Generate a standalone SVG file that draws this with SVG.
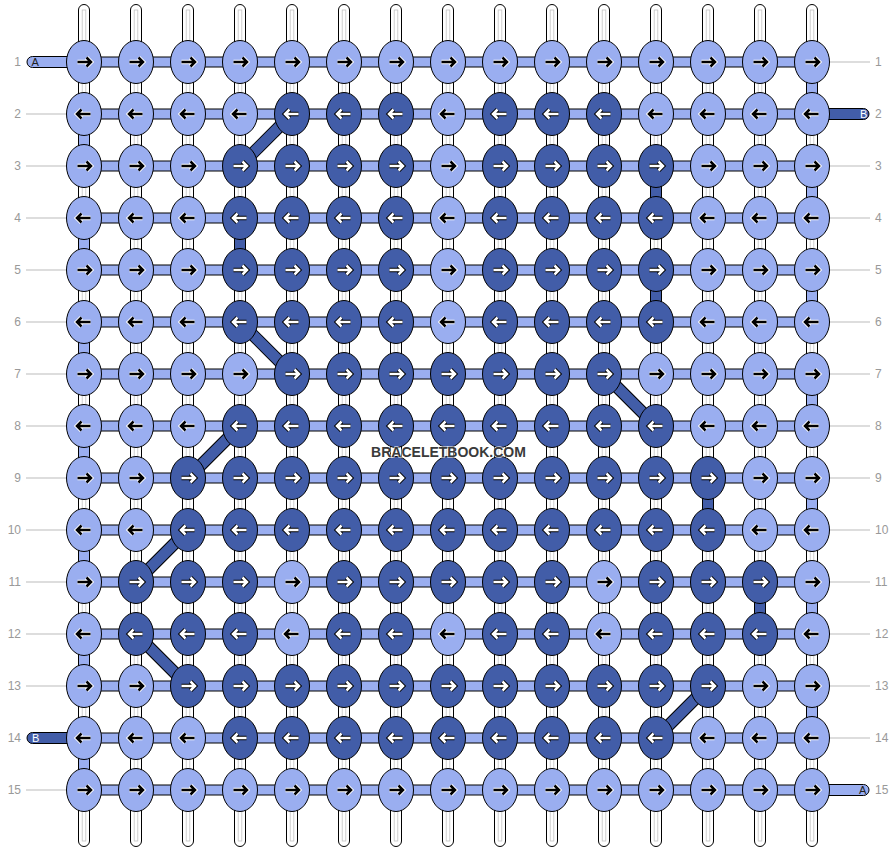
<svg xmlns="http://www.w3.org/2000/svg" xmlns:xlink="http://www.w3.org/1999/xlink" width="896" height="852" viewBox="0 0 896 852">
<style>
.L{fill:#9aaef0;stroke:#000;stroke-width:1}
.D{fill:#425da8;stroke:#000;stroke-width:1}
.vs{fill:#fff;stroke:#000;stroke-width:1}
.vi{fill:none;stroke:#c4c4c4;stroke-width:0.8}
.hb{fill:#9aaef0;stroke:#000;stroke-width:1}
.ll{stroke:#bbb;stroke-width:1}
.lb{font-family:"Liberation Sans",Arial,sans-serif;font-size:12px;fill:#999}
.tl{font-family:"Liberation Sans",Arial,sans-serif;font-size:11px}
.dg1{stroke:#000;stroke-width:12.5;stroke-linecap:butt}
.dg2{stroke:#425da8;stroke-width:10.5;stroke-linecap:butt}
</style>
<defs>
<path id="ap" d="M-6.5,0H6M2.5,-4.5L7,0L2.5,4.5" fill="none"/>
<g id="RL"><use href="#ap" stroke="#fff" stroke-width="4.5"/><use href="#ap" stroke="#000" stroke-width="2.5"/></g>
<g id="RD"><use href="#ap" stroke="#000" stroke-width="4.5"/><use href="#ap" stroke="#fff" stroke-width="2.5"/></g>
<g id="LL" transform="scale(-1,1)"><use href="#RL"/></g>
<g id="LD" transform="scale(-1,1)"><use href="#RD"/></g>
</defs>
<rect width="896" height="852" fill="#fff"/>
<g id="labels">
<g class="lb" text-anchor="end">
<text x="21" y="66">1</text><text x="21" y="118">2</text><text x="21" y="170">3</text><text x="21" y="222">4</text><text x="21" y="274">5</text><text x="21" y="326">6</text><text x="21" y="378">7</text><text x="21" y="430">8</text><text x="21" y="482">9</text><text x="21" y="534">10</text><text x="21" y="586">11</text><text x="21" y="638">12</text><text x="21" y="690">13</text><text x="21" y="742">14</text><text x="21" y="794">15</text>
</g>
<g class="lb">
<text x="875" y="66">1</text><text x="875" y="118">2</text><text x="875" y="170">3</text><text x="875" y="222">4</text><text x="875" y="274">5</text><text x="875" y="326">6</text><text x="875" y="378">7</text><text x="875" y="430">8</text><text x="875" y="482">9</text><text x="875" y="534">10</text><text x="875" y="586">11</text><text x="875" y="638">12</text><text x="875" y="690">13</text><text x="875" y="742">14</text><text x="875" y="794">15</text>
</g>
<g class="ll">
<line x1="26" y1="114" x2="67" y2="114"/><line x1="26" y1="166" x2="67" y2="166"/><line x1="26" y1="218" x2="67" y2="218"/><line x1="26" y1="270" x2="67" y2="270"/><line x1="26" y1="322" x2="67" y2="322"/><line x1="26" y1="374" x2="67" y2="374"/><line x1="26" y1="426" x2="67" y2="426"/><line x1="26" y1="478" x2="67" y2="478"/><line x1="26" y1="530" x2="67" y2="530"/><line x1="26" y1="582" x2="67" y2="582"/><line x1="26" y1="634" x2="67" y2="634"/><line x1="26" y1="686" x2="67" y2="686"/><line x1="26" y1="790" x2="67" y2="790"/>
<line x1="829" y1="62" x2="870" y2="62"/><line x1="829" y1="166" x2="870" y2="166"/><line x1="829" y1="218" x2="870" y2="218"/><line x1="829" y1="270" x2="870" y2="270"/><line x1="829" y1="322" x2="870" y2="322"/><line x1="829" y1="374" x2="870" y2="374"/><line x1="829" y1="426" x2="870" y2="426"/><line x1="829" y1="478" x2="870" y2="478"/><line x1="829" y1="530" x2="870" y2="530"/><line x1="829" y1="582" x2="870" y2="582"/><line x1="829" y1="634" x2="870" y2="634"/><line x1="829" y1="686" x2="870" y2="686"/><line x1="829" y1="738" x2="870" y2="738"/>
</g>
</g>
<g id="connectors">
<g id="vertical-strings">
<rect class="vs" x="78.5" y="4.5" width="11" height="842" rx="5.5"/><rect class="vs" x="130.5" y="4.5" width="11" height="842" rx="5.5"/><rect class="vs" x="182.5" y="4.5" width="11" height="842" rx="5.5"/><rect class="vs" x="234.5" y="4.5" width="11" height="842" rx="5.5"/><rect class="vs" x="286.5" y="4.5" width="11" height="842" rx="5.5"/><rect class="vs" x="338.5" y="4.5" width="11" height="842" rx="5.5"/><rect class="vs" x="390.5" y="4.5" width="11" height="842" rx="5.5"/><rect class="vs" x="442.5" y="4.5" width="11" height="842" rx="5.5"/><rect class="vs" x="494.5" y="4.5" width="11" height="842" rx="5.5"/><rect class="vs" x="546.5" y="4.5" width="11" height="842" rx="5.5"/><rect class="vs" x="598.5" y="4.5" width="11" height="842" rx="5.5"/><rect class="vs" x="650.5" y="4.5" width="11" height="842" rx="5.5"/><rect class="vs" x="702.5" y="4.5" width="11" height="842" rx="5.5"/><rect class="vs" x="754.5" y="4.5" width="11" height="842" rx="5.5"/><rect class="vs" x="806.5" y="4.5" width="11" height="842" rx="5.5"/>
<rect class="vi" x="82.2" y="10" width="3.6" height="831"/><rect class="vi" x="134.2" y="10" width="3.6" height="831"/><rect class="vi" x="186.2" y="10" width="3.6" height="831"/><rect class="vi" x="238.2" y="10" width="3.6" height="831"/><rect class="vi" x="290.2" y="10" width="3.6" height="831"/><rect class="vi" x="342.2" y="10" width="3.6" height="831"/><rect class="vi" x="394.2" y="10" width="3.6" height="831"/><rect class="vi" x="446.2" y="10" width="3.6" height="831"/><rect class="vi" x="498.2" y="10" width="3.6" height="831"/><rect class="vi" x="550.2" y="10" width="3.6" height="831"/><rect class="vi" x="602.2" y="10" width="3.6" height="831"/><rect class="vi" x="654.2" y="10" width="3.6" height="831"/><rect class="vi" x="706.2" y="10" width="3.6" height="831"/><rect class="vi" x="758.2" y="10" width="3.6" height="831"/><rect class="vi" x="810.2" y="10" width="3.6" height="831"/>
</g>
<g id="tails">
<rect class="L" x="27" y="56.5" width="60" height="11" rx="5.5"/>
<rect class="D" x="27" y="732.5" width="60" height="11" rx="5.5"/>
<rect class="D" x="809" y="108.5" width="60" height="11" rx="5.5"/>
<rect class="L" x="809" y="784.5" width="60" height="11" rx="5.5"/>
</g>
<g id="horizontal">
<rect class="hb" x="84" y="57" width="728" height="10"/><rect class="hb" x="84" y="109" width="728" height="10"/><rect class="hb" x="84" y="161" width="728" height="10"/><rect class="hb" x="84" y="213" width="728" height="10"/><rect class="hb" x="84" y="265" width="728" height="10"/><rect class="hb" x="84" y="317" width="728" height="10"/><rect class="hb" x="84" y="369" width="728" height="10"/><rect class="hb" x="84" y="421" width="728" height="10"/><rect class="hb" x="84" y="473" width="728" height="10"/><rect class="hb" x="84" y="525" width="728" height="10"/><rect class="hb" x="84" y="577" width="728" height="10"/><rect class="hb" x="84" y="629" width="728" height="10"/><rect class="hb" x="84" y="681" width="728" height="10"/><rect class="hb" x="84" y="733" width="728" height="10"/><rect class="hb" x="84" y="785" width="728" height="10"/>
</g>
<g id="edge-turns">
<rect class="L" x="806.5" y="62" width="11" height="52"/><rect class="L" x="806.5" y="166" width="11" height="52"/><rect class="L" x="806.5" y="270" width="11" height="52"/><rect class="L" x="806.5" y="374" width="11" height="52"/><rect class="L" x="806.5" y="478" width="11" height="52"/><rect class="L" x="806.5" y="582" width="11" height="52"/><rect class="L" x="806.5" y="686" width="11" height="52"/>
<rect class="L" x="78.5" y="114" width="11" height="52"/><rect class="L" x="78.5" y="218" width="11" height="52"/><rect class="L" x="78.5" y="322" width="11" height="52"/><rect class="L" x="78.5" y="426" width="11" height="52"/><rect class="L" x="78.5" y="530" width="11" height="52"/><rect class="L" x="78.5" y="634" width="11" height="52"/><rect class="L" x="78.5" y="738" width="11" height="52"/>
</g>
<g id="dark-verticals">
<rect class="D" x="234.5" y="218" width="11" height="52"/>
<rect class="D" x="650.5" y="166" width="11" height="52"/>
<rect class="D" x="650.5" y="270" width="11" height="52"/>
<rect class="D" x="702.5" y="478" width="11" height="52"/>
<rect class="D" x="754.5" y="582" width="11" height="52"/>
</g>
<g id="diagonals">
<line class="dg1" x1="292" y1="114" x2="240" y2="166"/><line class="dg2" x1="292" y1="114" x2="240" y2="166"/>
<line class="dg1" x1="240" y1="322" x2="292" y2="374"/><line class="dg2" x1="240" y1="322" x2="292" y2="374"/>
<line class="dg1" x1="604" y1="374" x2="656" y2="426"/><line class="dg2" x1="604" y1="374" x2="656" y2="426"/>
<line class="dg1" x1="240" y1="426" x2="188" y2="478"/><line class="dg2" x1="240" y1="426" x2="188" y2="478"/>
<line class="dg1" x1="188" y1="530" x2="136" y2="582"/><line class="dg2" x1="188" y1="530" x2="136" y2="582"/>
<line class="dg1" x1="136" y1="634" x2="188" y2="686"/><line class="dg2" x1="136" y1="634" x2="188" y2="686"/>
<line class="dg1" x1="708" y1="686" x2="656" y2="738"/><line class="dg2" x1="708" y1="686" x2="656" y2="738"/>
</g>
</g>
<g id="tail-letters" class="tl">
<text x="31.5" y="66" fill="#222">A</text>
<text x="32" y="742" fill="#fff">B</text>
<text x="860" y="118" fill="#fff">B</text>
<text x="859" y="794" fill="#222">A</text>
</g>
<g id="knots">
<g id="k1-1"><ellipse class="L" cx="84" cy="62" rx="17.5" ry="21.5"/><use href="#RL" x="84" y="62"/></g>
<g id="k1-2"><ellipse class="L" cx="136" cy="62" rx="17.5" ry="21.5"/><use href="#RL" x="136" y="62"/></g>
<g id="k1-3"><ellipse class="L" cx="188" cy="62" rx="17.5" ry="21.5"/><use href="#RL" x="188" y="62"/></g>
<g id="k1-4"><ellipse class="L" cx="240" cy="62" rx="17.5" ry="21.5"/><use href="#RL" x="240" y="62"/></g>
<g id="k1-5"><ellipse class="L" cx="292" cy="62" rx="17.5" ry="21.5"/><use href="#RL" x="292" y="62"/></g>
<g id="k1-6"><ellipse class="L" cx="344" cy="62" rx="17.5" ry="21.5"/><use href="#RL" x="344" y="62"/></g>
<g id="k1-7"><ellipse class="L" cx="396" cy="62" rx="17.5" ry="21.5"/><use href="#RL" x="396" y="62"/></g>
<g id="k1-8"><ellipse class="L" cx="448" cy="62" rx="17.5" ry="21.5"/><use href="#RL" x="448" y="62"/></g>
<g id="k1-9"><ellipse class="L" cx="500" cy="62" rx="17.5" ry="21.5"/><use href="#RL" x="500" y="62"/></g>
<g id="k1-10"><ellipse class="L" cx="552" cy="62" rx="17.5" ry="21.5"/><use href="#RL" x="552" y="62"/></g>
<g id="k1-11"><ellipse class="L" cx="604" cy="62" rx="17.5" ry="21.5"/><use href="#RL" x="604" y="62"/></g>
<g id="k1-12"><ellipse class="L" cx="656" cy="62" rx="17.5" ry="21.5"/><use href="#RL" x="656" y="62"/></g>
<g id="k1-13"><ellipse class="L" cx="708" cy="62" rx="17.5" ry="21.5"/><use href="#RL" x="708" y="62"/></g>
<g id="k1-14"><ellipse class="L" cx="760" cy="62" rx="17.5" ry="21.5"/><use href="#RL" x="760" y="62"/></g>
<g id="k1-15"><ellipse class="L" cx="812" cy="62" rx="17.5" ry="21.5"/><use href="#RL" x="812" y="62"/></g>

<g id="k2-1"><ellipse class="L" cx="84" cy="114" rx="17.5" ry="21.5"/><use href="#LL" x="84" y="114"/></g>
<g id="k2-2"><ellipse class="L" cx="136" cy="114" rx="17.5" ry="21.5"/><use href="#LL" x="136" y="114"/></g>
<g id="k2-3"><ellipse class="L" cx="188" cy="114" rx="17.5" ry="21.5"/><use href="#LL" x="188" y="114"/></g>
<g id="k2-4"><ellipse class="L" cx="240" cy="114" rx="17.5" ry="21.5"/><use href="#LL" x="240" y="114"/></g>
<g id="k2-5"><ellipse class="D" cx="292" cy="114" rx="17.5" ry="21.5"/><use href="#LD" x="292" y="114"/></g>
<g id="k2-6"><ellipse class="D" cx="344" cy="114" rx="17.5" ry="21.5"/><use href="#LD" x="344" y="114"/></g>
<g id="k2-7"><ellipse class="D" cx="396" cy="114" rx="17.5" ry="21.5"/><use href="#LD" x="396" y="114"/></g>
<g id="k2-8"><ellipse class="L" cx="448" cy="114" rx="17.5" ry="21.5"/><use href="#LL" x="448" y="114"/></g>
<g id="k2-9"><ellipse class="D" cx="500" cy="114" rx="17.5" ry="21.5"/><use href="#LD" x="500" y="114"/></g>
<g id="k2-10"><ellipse class="D" cx="552" cy="114" rx="17.5" ry="21.5"/><use href="#LD" x="552" y="114"/></g>
<g id="k2-11"><ellipse class="D" cx="604" cy="114" rx="17.5" ry="21.5"/><use href="#LD" x="604" y="114"/></g>
<g id="k2-12"><ellipse class="L" cx="656" cy="114" rx="17.5" ry="21.5"/><use href="#LL" x="656" y="114"/></g>
<g id="k2-13"><ellipse class="L" cx="708" cy="114" rx="17.5" ry="21.5"/><use href="#LL" x="708" y="114"/></g>
<g id="k2-14"><ellipse class="L" cx="760" cy="114" rx="17.5" ry="21.5"/><use href="#LL" x="760" y="114"/></g>
<g id="k2-15"><ellipse class="L" cx="812" cy="114" rx="17.5" ry="21.5"/><use href="#LL" x="812" y="114"/></g>

<g id="k3-1"><ellipse class="L" cx="84" cy="166" rx="17.5" ry="21.5"/><use href="#RL" x="84" y="166"/></g>
<g id="k3-2"><ellipse class="L" cx="136" cy="166" rx="17.5" ry="21.5"/><use href="#RL" x="136" y="166"/></g>
<g id="k3-3"><ellipse class="L" cx="188" cy="166" rx="17.5" ry="21.5"/><use href="#RL" x="188" y="166"/></g>
<g id="k3-4"><ellipse class="D" cx="240" cy="166" rx="17.5" ry="21.5"/><use href="#RD" x="240" y="166"/></g>
<g id="k3-5"><ellipse class="D" cx="292" cy="166" rx="17.5" ry="21.5"/><use href="#RD" x="292" y="166"/></g>
<g id="k3-6"><ellipse class="D" cx="344" cy="166" rx="17.5" ry="21.5"/><use href="#RD" x="344" y="166"/></g>
<g id="k3-7"><ellipse class="D" cx="396" cy="166" rx="17.5" ry="21.5"/><use href="#RD" x="396" y="166"/></g>
<g id="k3-8"><ellipse class="L" cx="448" cy="166" rx="17.5" ry="21.5"/><use href="#RL" x="448" y="166"/></g>
<g id="k3-9"><ellipse class="D" cx="500" cy="166" rx="17.5" ry="21.5"/><use href="#RD" x="500" y="166"/></g>
<g id="k3-10"><ellipse class="D" cx="552" cy="166" rx="17.5" ry="21.5"/><use href="#RD" x="552" y="166"/></g>
<g id="k3-11"><ellipse class="D" cx="604" cy="166" rx="17.5" ry="21.5"/><use href="#RD" x="604" y="166"/></g>
<g id="k3-12"><ellipse class="D" cx="656" cy="166" rx="17.5" ry="21.5"/><use href="#RD" x="656" y="166"/></g>
<g id="k3-13"><ellipse class="L" cx="708" cy="166" rx="17.5" ry="21.5"/><use href="#RL" x="708" y="166"/></g>
<g id="k3-14"><ellipse class="L" cx="760" cy="166" rx="17.5" ry="21.5"/><use href="#RL" x="760" y="166"/></g>
<g id="k3-15"><ellipse class="L" cx="812" cy="166" rx="17.5" ry="21.5"/><use href="#RL" x="812" y="166"/></g>

<g id="k4-1"><ellipse class="L" cx="84" cy="218" rx="17.5" ry="21.5"/><use href="#LL" x="84" y="218"/></g>
<g id="k4-2"><ellipse class="L" cx="136" cy="218" rx="17.5" ry="21.5"/><use href="#LL" x="136" y="218"/></g>
<g id="k4-3"><ellipse class="L" cx="188" cy="218" rx="17.5" ry="21.5"/><use href="#LL" x="188" y="218"/></g>
<g id="k4-4"><ellipse class="D" cx="240" cy="218" rx="17.5" ry="21.5"/><use href="#LD" x="240" y="218"/></g>
<g id="k4-5"><ellipse class="D" cx="292" cy="218" rx="17.5" ry="21.5"/><use href="#LD" x="292" y="218"/></g>
<g id="k4-6"><ellipse class="D" cx="344" cy="218" rx="17.5" ry="21.5"/><use href="#LD" x="344" y="218"/></g>
<g id="k4-7"><ellipse class="D" cx="396" cy="218" rx="17.5" ry="21.5"/><use href="#LD" x="396" y="218"/></g>
<g id="k4-8"><ellipse class="L" cx="448" cy="218" rx="17.5" ry="21.5"/><use href="#LL" x="448" y="218"/></g>
<g id="k4-9"><ellipse class="D" cx="500" cy="218" rx="17.5" ry="21.5"/><use href="#LD" x="500" y="218"/></g>
<g id="k4-10"><ellipse class="D" cx="552" cy="218" rx="17.5" ry="21.5"/><use href="#LD" x="552" y="218"/></g>
<g id="k4-11"><ellipse class="D" cx="604" cy="218" rx="17.5" ry="21.5"/><use href="#LD" x="604" y="218"/></g>
<g id="k4-12"><ellipse class="D" cx="656" cy="218" rx="17.5" ry="21.5"/><use href="#LD" x="656" y="218"/></g>
<g id="k4-13"><ellipse class="L" cx="708" cy="218" rx="17.5" ry="21.5"/><use href="#LL" x="708" y="218"/></g>
<g id="k4-14"><ellipse class="L" cx="760" cy="218" rx="17.5" ry="21.5"/><use href="#LL" x="760" y="218"/></g>
<g id="k4-15"><ellipse class="L" cx="812" cy="218" rx="17.5" ry="21.5"/><use href="#LL" x="812" y="218"/></g>

<g id="k5-1"><ellipse class="L" cx="84" cy="270" rx="17.5" ry="21.5"/><use href="#RL" x="84" y="270"/></g>
<g id="k5-2"><ellipse class="L" cx="136" cy="270" rx="17.5" ry="21.5"/><use href="#RL" x="136" y="270"/></g>
<g id="k5-3"><ellipse class="L" cx="188" cy="270" rx="17.5" ry="21.5"/><use href="#RL" x="188" y="270"/></g>
<g id="k5-4"><ellipse class="D" cx="240" cy="270" rx="17.5" ry="21.5"/><use href="#RD" x="240" y="270"/></g>
<g id="k5-5"><ellipse class="D" cx="292" cy="270" rx="17.5" ry="21.5"/><use href="#RD" x="292" y="270"/></g>
<g id="k5-6"><ellipse class="D" cx="344" cy="270" rx="17.5" ry="21.5"/><use href="#RD" x="344" y="270"/></g>
<g id="k5-7"><ellipse class="D" cx="396" cy="270" rx="17.5" ry="21.5"/><use href="#RD" x="396" y="270"/></g>
<g id="k5-8"><ellipse class="L" cx="448" cy="270" rx="17.5" ry="21.5"/><use href="#RL" x="448" y="270"/></g>
<g id="k5-9"><ellipse class="D" cx="500" cy="270" rx="17.5" ry="21.5"/><use href="#RD" x="500" y="270"/></g>
<g id="k5-10"><ellipse class="D" cx="552" cy="270" rx="17.5" ry="21.5"/><use href="#RD" x="552" y="270"/></g>
<g id="k5-11"><ellipse class="D" cx="604" cy="270" rx="17.5" ry="21.5"/><use href="#RD" x="604" y="270"/></g>
<g id="k5-12"><ellipse class="D" cx="656" cy="270" rx="17.5" ry="21.5"/><use href="#RD" x="656" y="270"/></g>
<g id="k5-13"><ellipse class="L" cx="708" cy="270" rx="17.5" ry="21.5"/><use href="#RL" x="708" y="270"/></g>
<g id="k5-14"><ellipse class="L" cx="760" cy="270" rx="17.5" ry="21.5"/><use href="#RL" x="760" y="270"/></g>
<g id="k5-15"><ellipse class="L" cx="812" cy="270" rx="17.5" ry="21.5"/><use href="#RL" x="812" y="270"/></g>

<g id="k6-1"><ellipse class="L" cx="84" cy="322" rx="17.5" ry="21.5"/><use href="#LL" x="84" y="322"/></g>
<g id="k6-2"><ellipse class="L" cx="136" cy="322" rx="17.5" ry="21.5"/><use href="#LL" x="136" y="322"/></g>
<g id="k6-3"><ellipse class="L" cx="188" cy="322" rx="17.5" ry="21.5"/><use href="#LL" x="188" y="322"/></g>
<g id="k6-4"><ellipse class="D" cx="240" cy="322" rx="17.5" ry="21.5"/><use href="#LD" x="240" y="322"/></g>
<g id="k6-5"><ellipse class="D" cx="292" cy="322" rx="17.5" ry="21.5"/><use href="#LD" x="292" y="322"/></g>
<g id="k6-6"><ellipse class="D" cx="344" cy="322" rx="17.5" ry="21.5"/><use href="#LD" x="344" y="322"/></g>
<g id="k6-7"><ellipse class="D" cx="396" cy="322" rx="17.5" ry="21.5"/><use href="#LD" x="396" y="322"/></g>
<g id="k6-8"><ellipse class="L" cx="448" cy="322" rx="17.5" ry="21.5"/><use href="#LL" x="448" y="322"/></g>
<g id="k6-9"><ellipse class="D" cx="500" cy="322" rx="17.5" ry="21.5"/><use href="#LD" x="500" y="322"/></g>
<g id="k6-10"><ellipse class="D" cx="552" cy="322" rx="17.5" ry="21.5"/><use href="#LD" x="552" y="322"/></g>
<g id="k6-11"><ellipse class="D" cx="604" cy="322" rx="17.5" ry="21.5"/><use href="#LD" x="604" y="322"/></g>
<g id="k6-12"><ellipse class="D" cx="656" cy="322" rx="17.5" ry="21.5"/><use href="#LD" x="656" y="322"/></g>
<g id="k6-13"><ellipse class="L" cx="708" cy="322" rx="17.5" ry="21.5"/><use href="#LL" x="708" y="322"/></g>
<g id="k6-14"><ellipse class="L" cx="760" cy="322" rx="17.5" ry="21.5"/><use href="#LL" x="760" y="322"/></g>
<g id="k6-15"><ellipse class="L" cx="812" cy="322" rx="17.5" ry="21.5"/><use href="#LL" x="812" y="322"/></g>

<g id="k7-1"><ellipse class="L" cx="84" cy="374" rx="17.5" ry="21.5"/><use href="#RL" x="84" y="374"/></g>
<g id="k7-2"><ellipse class="L" cx="136" cy="374" rx="17.5" ry="21.5"/><use href="#RL" x="136" y="374"/></g>
<g id="k7-3"><ellipse class="L" cx="188" cy="374" rx="17.5" ry="21.5"/><use href="#RL" x="188" y="374"/></g>
<g id="k7-4"><ellipse class="L" cx="240" cy="374" rx="17.5" ry="21.5"/><use href="#RL" x="240" y="374"/></g>
<g id="k7-5"><ellipse class="D" cx="292" cy="374" rx="17.5" ry="21.5"/><use href="#RD" x="292" y="374"/></g>
<g id="k7-6"><ellipse class="D" cx="344" cy="374" rx="17.5" ry="21.5"/><use href="#RD" x="344" y="374"/></g>
<g id="k7-7"><ellipse class="D" cx="396" cy="374" rx="17.5" ry="21.5"/><use href="#RD" x="396" y="374"/></g>
<g id="k7-8"><ellipse class="D" cx="448" cy="374" rx="17.5" ry="21.5"/><use href="#RD" x="448" y="374"/></g>
<g id="k7-9"><ellipse class="D" cx="500" cy="374" rx="17.5" ry="21.5"/><use href="#RD" x="500" y="374"/></g>
<g id="k7-10"><ellipse class="D" cx="552" cy="374" rx="17.5" ry="21.5"/><use href="#RD" x="552" y="374"/></g>
<g id="k7-11"><ellipse class="D" cx="604" cy="374" rx="17.5" ry="21.5"/><use href="#RD" x="604" y="374"/></g>
<g id="k7-12"><ellipse class="L" cx="656" cy="374" rx="17.5" ry="21.5"/><use href="#RL" x="656" y="374"/></g>
<g id="k7-13"><ellipse class="L" cx="708" cy="374" rx="17.5" ry="21.5"/><use href="#RL" x="708" y="374"/></g>
<g id="k7-14"><ellipse class="L" cx="760" cy="374" rx="17.5" ry="21.5"/><use href="#RL" x="760" y="374"/></g>
<g id="k7-15"><ellipse class="L" cx="812" cy="374" rx="17.5" ry="21.5"/><use href="#RL" x="812" y="374"/></g>

<g id="k8-1"><ellipse class="L" cx="84" cy="426" rx="17.5" ry="21.5"/><use href="#LL" x="84" y="426"/></g>
<g id="k8-2"><ellipse class="L" cx="136" cy="426" rx="17.5" ry="21.5"/><use href="#LL" x="136" y="426"/></g>
<g id="k8-3"><ellipse class="L" cx="188" cy="426" rx="17.5" ry="21.5"/><use href="#LL" x="188" y="426"/></g>
<g id="k8-4"><ellipse class="D" cx="240" cy="426" rx="17.5" ry="21.5"/><use href="#LD" x="240" y="426"/></g>
<g id="k8-5"><ellipse class="D" cx="292" cy="426" rx="17.5" ry="21.5"/><use href="#LD" x="292" y="426"/></g>
<g id="k8-6"><ellipse class="D" cx="344" cy="426" rx="17.5" ry="21.5"/><use href="#LD" x="344" y="426"/></g>
<g id="k8-7"><ellipse class="D" cx="396" cy="426" rx="17.5" ry="21.5"/><use href="#LD" x="396" y="426"/></g>
<g id="k8-8"><ellipse class="D" cx="448" cy="426" rx="17.5" ry="21.5"/><use href="#LD" x="448" y="426"/></g>
<g id="k8-9"><ellipse class="D" cx="500" cy="426" rx="17.5" ry="21.5"/><use href="#LD" x="500" y="426"/></g>
<g id="k8-10"><ellipse class="D" cx="552" cy="426" rx="17.5" ry="21.5"/><use href="#LD" x="552" y="426"/></g>
<g id="k8-11"><ellipse class="D" cx="604" cy="426" rx="17.5" ry="21.5"/><use href="#LD" x="604" y="426"/></g>
<g id="k8-12"><ellipse class="D" cx="656" cy="426" rx="17.5" ry="21.5"/><use href="#LD" x="656" y="426"/></g>
<g id="k8-13"><ellipse class="L" cx="708" cy="426" rx="17.5" ry="21.5"/><use href="#LL" x="708" y="426"/></g>
<g id="k8-14"><ellipse class="L" cx="760" cy="426" rx="17.5" ry="21.5"/><use href="#LL" x="760" y="426"/></g>
<g id="k8-15"><ellipse class="L" cx="812" cy="426" rx="17.5" ry="21.5"/><use href="#LL" x="812" y="426"/></g>

<g id="k9-1"><ellipse class="L" cx="84" cy="478" rx="17.5" ry="21.5"/><use href="#RL" x="84" y="478"/></g>
<g id="k9-2"><ellipse class="L" cx="136" cy="478" rx="17.5" ry="21.5"/><use href="#RL" x="136" y="478"/></g>
<g id="k9-3"><ellipse class="D" cx="188" cy="478" rx="17.5" ry="21.5"/><use href="#RD" x="188" y="478"/></g>
<g id="k9-4"><ellipse class="D" cx="240" cy="478" rx="17.5" ry="21.5"/><use href="#RD" x="240" y="478"/></g>
<g id="k9-5"><ellipse class="D" cx="292" cy="478" rx="17.5" ry="21.5"/><use href="#RD" x="292" y="478"/></g>
<g id="k9-6"><ellipse class="D" cx="344" cy="478" rx="17.5" ry="21.5"/><use href="#RD" x="344" y="478"/></g>
<g id="k9-7"><ellipse class="D" cx="396" cy="478" rx="17.5" ry="21.5"/><use href="#RD" x="396" y="478"/></g>
<g id="k9-8"><ellipse class="D" cx="448" cy="478" rx="17.5" ry="21.5"/><use href="#RD" x="448" y="478"/></g>
<g id="k9-9"><ellipse class="D" cx="500" cy="478" rx="17.5" ry="21.5"/><use href="#RD" x="500" y="478"/></g>
<g id="k9-10"><ellipse class="D" cx="552" cy="478" rx="17.5" ry="21.5"/><use href="#RD" x="552" y="478"/></g>
<g id="k9-11"><ellipse class="D" cx="604" cy="478" rx="17.5" ry="21.5"/><use href="#RD" x="604" y="478"/></g>
<g id="k9-12"><ellipse class="D" cx="656" cy="478" rx="17.5" ry="21.5"/><use href="#RD" x="656" y="478"/></g>
<g id="k9-13"><ellipse class="D" cx="708" cy="478" rx="17.5" ry="21.5"/><use href="#RD" x="708" y="478"/></g>
<g id="k9-14"><ellipse class="L" cx="760" cy="478" rx="17.5" ry="21.5"/><use href="#RL" x="760" y="478"/></g>
<g id="k9-15"><ellipse class="L" cx="812" cy="478" rx="17.5" ry="21.5"/><use href="#RL" x="812" y="478"/></g>

<g id="k10-1"><ellipse class="L" cx="84" cy="530" rx="17.5" ry="21.5"/><use href="#LL" x="84" y="530"/></g>
<g id="k10-2"><ellipse class="L" cx="136" cy="530" rx="17.5" ry="21.5"/><use href="#LL" x="136" y="530"/></g>
<g id="k10-3"><ellipse class="D" cx="188" cy="530" rx="17.5" ry="21.5"/><use href="#LD" x="188" y="530"/></g>
<g id="k10-4"><ellipse class="D" cx="240" cy="530" rx="17.5" ry="21.5"/><use href="#LD" x="240" y="530"/></g>
<g id="k10-5"><ellipse class="D" cx="292" cy="530" rx="17.5" ry="21.5"/><use href="#LD" x="292" y="530"/></g>
<g id="k10-6"><ellipse class="D" cx="344" cy="530" rx="17.5" ry="21.5"/><use href="#LD" x="344" y="530"/></g>
<g id="k10-7"><ellipse class="D" cx="396" cy="530" rx="17.5" ry="21.5"/><use href="#LD" x="396" y="530"/></g>
<g id="k10-8"><ellipse class="D" cx="448" cy="530" rx="17.5" ry="21.5"/><use href="#LD" x="448" y="530"/></g>
<g id="k10-9"><ellipse class="D" cx="500" cy="530" rx="17.5" ry="21.5"/><use href="#LD" x="500" y="530"/></g>
<g id="k10-10"><ellipse class="D" cx="552" cy="530" rx="17.5" ry="21.5"/><use href="#LD" x="552" y="530"/></g>
<g id="k10-11"><ellipse class="D" cx="604" cy="530" rx="17.5" ry="21.5"/><use href="#LD" x="604" y="530"/></g>
<g id="k10-12"><ellipse class="D" cx="656" cy="530" rx="17.5" ry="21.5"/><use href="#LD" x="656" y="530"/></g>
<g id="k10-13"><ellipse class="D" cx="708" cy="530" rx="17.5" ry="21.5"/><use href="#LD" x="708" y="530"/></g>
<g id="k10-14"><ellipse class="L" cx="760" cy="530" rx="17.5" ry="21.5"/><use href="#LL" x="760" y="530"/></g>
<g id="k10-15"><ellipse class="L" cx="812" cy="530" rx="17.5" ry="21.5"/><use href="#LL" x="812" y="530"/></g>

<g id="k11-1"><ellipse class="L" cx="84" cy="582" rx="17.5" ry="21.5"/><use href="#RL" x="84" y="582"/></g>
<g id="k11-2"><ellipse class="D" cx="136" cy="582" rx="17.5" ry="21.5"/><use href="#RD" x="136" y="582"/></g>
<g id="k11-3"><ellipse class="D" cx="188" cy="582" rx="17.5" ry="21.5"/><use href="#RD" x="188" y="582"/></g>
<g id="k11-4"><ellipse class="D" cx="240" cy="582" rx="17.5" ry="21.5"/><use href="#RD" x="240" y="582"/></g>
<g id="k11-5"><ellipse class="L" cx="292" cy="582" rx="17.5" ry="21.5"/><use href="#RL" x="292" y="582"/></g>
<g id="k11-6"><ellipse class="D" cx="344" cy="582" rx="17.5" ry="21.5"/><use href="#RD" x="344" y="582"/></g>
<g id="k11-7"><ellipse class="D" cx="396" cy="582" rx="17.5" ry="21.5"/><use href="#RD" x="396" y="582"/></g>
<g id="k11-8"><ellipse class="D" cx="448" cy="582" rx="17.5" ry="21.5"/><use href="#RD" x="448" y="582"/></g>
<g id="k11-9"><ellipse class="D" cx="500" cy="582" rx="17.5" ry="21.5"/><use href="#RD" x="500" y="582"/></g>
<g id="k11-10"><ellipse class="D" cx="552" cy="582" rx="17.5" ry="21.5"/><use href="#RD" x="552" y="582"/></g>
<g id="k11-11"><ellipse class="L" cx="604" cy="582" rx="17.5" ry="21.5"/><use href="#RL" x="604" y="582"/></g>
<g id="k11-12"><ellipse class="D" cx="656" cy="582" rx="17.5" ry="21.5"/><use href="#RD" x="656" y="582"/></g>
<g id="k11-13"><ellipse class="D" cx="708" cy="582" rx="17.5" ry="21.5"/><use href="#RD" x="708" y="582"/></g>
<g id="k11-14"><ellipse class="D" cx="760" cy="582" rx="17.5" ry="21.5"/><use href="#RD" x="760" y="582"/></g>
<g id="k11-15"><ellipse class="L" cx="812" cy="582" rx="17.5" ry="21.5"/><use href="#RL" x="812" y="582"/></g>

<g id="k12-1"><ellipse class="L" cx="84" cy="634" rx="17.5" ry="21.5"/><use href="#LL" x="84" y="634"/></g>
<g id="k12-2"><ellipse class="D" cx="136" cy="634" rx="17.5" ry="21.5"/><use href="#LD" x="136" y="634"/></g>
<g id="k12-3"><ellipse class="D" cx="188" cy="634" rx="17.5" ry="21.5"/><use href="#LD" x="188" y="634"/></g>
<g id="k12-4"><ellipse class="D" cx="240" cy="634" rx="17.5" ry="21.5"/><use href="#LD" x="240" y="634"/></g>
<g id="k12-5"><ellipse class="L" cx="292" cy="634" rx="17.5" ry="21.5"/><use href="#LL" x="292" y="634"/></g>
<g id="k12-6"><ellipse class="D" cx="344" cy="634" rx="17.5" ry="21.5"/><use href="#LD" x="344" y="634"/></g>
<g id="k12-7"><ellipse class="D" cx="396" cy="634" rx="17.5" ry="21.5"/><use href="#LD" x="396" y="634"/></g>
<g id="k12-8"><ellipse class="L" cx="448" cy="634" rx="17.5" ry="21.5"/><use href="#LL" x="448" y="634"/></g>
<g id="k12-9"><ellipse class="D" cx="500" cy="634" rx="17.5" ry="21.5"/><use href="#LD" x="500" y="634"/></g>
<g id="k12-10"><ellipse class="D" cx="552" cy="634" rx="17.5" ry="21.5"/><use href="#LD" x="552" y="634"/></g>
<g id="k12-11"><ellipse class="L" cx="604" cy="634" rx="17.5" ry="21.5"/><use href="#LL" x="604" y="634"/></g>
<g id="k12-12"><ellipse class="D" cx="656" cy="634" rx="17.5" ry="21.5"/><use href="#LD" x="656" y="634"/></g>
<g id="k12-13"><ellipse class="D" cx="708" cy="634" rx="17.5" ry="21.5"/><use href="#LD" x="708" y="634"/></g>
<g id="k12-14"><ellipse class="D" cx="760" cy="634" rx="17.5" ry="21.5"/><use href="#LD" x="760" y="634"/></g>
<g id="k12-15"><ellipse class="L" cx="812" cy="634" rx="17.5" ry="21.5"/><use href="#LL" x="812" y="634"/></g>

<g id="k13-1"><ellipse class="L" cx="84" cy="686" rx="17.5" ry="21.5"/><use href="#RL" x="84" y="686"/></g>
<g id="k13-2"><ellipse class="L" cx="136" cy="686" rx="17.5" ry="21.5"/><use href="#RL" x="136" y="686"/></g>
<g id="k13-3"><ellipse class="D" cx="188" cy="686" rx="17.5" ry="21.5"/><use href="#RD" x="188" y="686"/></g>
<g id="k13-4"><ellipse class="D" cx="240" cy="686" rx="17.5" ry="21.5"/><use href="#RD" x="240" y="686"/></g>
<g id="k13-5"><ellipse class="D" cx="292" cy="686" rx="17.5" ry="21.5"/><use href="#RD" x="292" y="686"/></g>
<g id="k13-6"><ellipse class="D" cx="344" cy="686" rx="17.5" ry="21.5"/><use href="#RD" x="344" y="686"/></g>
<g id="k13-7"><ellipse class="D" cx="396" cy="686" rx="17.5" ry="21.5"/><use href="#RD" x="396" y="686"/></g>
<g id="k13-8"><ellipse class="D" cx="448" cy="686" rx="17.5" ry="21.5"/><use href="#RD" x="448" y="686"/></g>
<g id="k13-9"><ellipse class="D" cx="500" cy="686" rx="17.5" ry="21.5"/><use href="#RD" x="500" y="686"/></g>
<g id="k13-10"><ellipse class="D" cx="552" cy="686" rx="17.5" ry="21.5"/><use href="#RD" x="552" y="686"/></g>
<g id="k13-11"><ellipse class="D" cx="604" cy="686" rx="17.5" ry="21.5"/><use href="#RD" x="604" y="686"/></g>
<g id="k13-12"><ellipse class="D" cx="656" cy="686" rx="17.5" ry="21.5"/><use href="#RD" x="656" y="686"/></g>
<g id="k13-13"><ellipse class="D" cx="708" cy="686" rx="17.5" ry="21.5"/><use href="#RD" x="708" y="686"/></g>
<g id="k13-14"><ellipse class="L" cx="760" cy="686" rx="17.5" ry="21.5"/><use href="#RL" x="760" y="686"/></g>
<g id="k13-15"><ellipse class="L" cx="812" cy="686" rx="17.5" ry="21.5"/><use href="#RL" x="812" y="686"/></g>

<g id="k14-1"><ellipse class="L" cx="84" cy="738" rx="17.5" ry="21.5"/><use href="#LL" x="84" y="738"/></g>
<g id="k14-2"><ellipse class="L" cx="136" cy="738" rx="17.5" ry="21.5"/><use href="#LL" x="136" y="738"/></g>
<g id="k14-3"><ellipse class="L" cx="188" cy="738" rx="17.5" ry="21.5"/><use href="#LL" x="188" y="738"/></g>
<g id="k14-4"><ellipse class="D" cx="240" cy="738" rx="17.5" ry="21.5"/><use href="#LD" x="240" y="738"/></g>
<g id="k14-5"><ellipse class="D" cx="292" cy="738" rx="17.5" ry="21.5"/><use href="#LD" x="292" y="738"/></g>
<g id="k14-6"><ellipse class="D" cx="344" cy="738" rx="17.5" ry="21.5"/><use href="#LD" x="344" y="738"/></g>
<g id="k14-7"><ellipse class="D" cx="396" cy="738" rx="17.5" ry="21.5"/><use href="#LD" x="396" y="738"/></g>
<g id="k14-8"><ellipse class="D" cx="448" cy="738" rx="17.5" ry="21.5"/><use href="#LD" x="448" y="738"/></g>
<g id="k14-9"><ellipse class="D" cx="500" cy="738" rx="17.5" ry="21.5"/><use href="#LD" x="500" y="738"/></g>
<g id="k14-10"><ellipse class="D" cx="552" cy="738" rx="17.5" ry="21.5"/><use href="#LD" x="552" y="738"/></g>
<g id="k14-11"><ellipse class="D" cx="604" cy="738" rx="17.5" ry="21.5"/><use href="#LD" x="604" y="738"/></g>
<g id="k14-12"><ellipse class="D" cx="656" cy="738" rx="17.5" ry="21.5"/><use href="#LD" x="656" y="738"/></g>
<g id="k14-13"><ellipse class="L" cx="708" cy="738" rx="17.5" ry="21.5"/><use href="#LL" x="708" y="738"/></g>
<g id="k14-14"><ellipse class="L" cx="760" cy="738" rx="17.5" ry="21.5"/><use href="#LL" x="760" y="738"/></g>
<g id="k14-15"><ellipse class="L" cx="812" cy="738" rx="17.5" ry="21.5"/><use href="#LL" x="812" y="738"/></g>

<g id="k15-1"><ellipse class="L" cx="84" cy="790" rx="17.5" ry="21.5"/><use href="#RL" x="84" y="790"/></g>
<g id="k15-2"><ellipse class="L" cx="136" cy="790" rx="17.5" ry="21.5"/><use href="#RL" x="136" y="790"/></g>
<g id="k15-3"><ellipse class="L" cx="188" cy="790" rx="17.5" ry="21.5"/><use href="#RL" x="188" y="790"/></g>
<g id="k15-4"><ellipse class="L" cx="240" cy="790" rx="17.5" ry="21.5"/><use href="#RL" x="240" y="790"/></g>
<g id="k15-5"><ellipse class="L" cx="292" cy="790" rx="17.5" ry="21.5"/><use href="#RL" x="292" y="790"/></g>
<g id="k15-6"><ellipse class="L" cx="344" cy="790" rx="17.5" ry="21.5"/><use href="#RL" x="344" y="790"/></g>
<g id="k15-7"><ellipse class="L" cx="396" cy="790" rx="17.5" ry="21.5"/><use href="#RL" x="396" y="790"/></g>
<g id="k15-8"><ellipse class="L" cx="448" cy="790" rx="17.5" ry="21.5"/><use href="#RL" x="448" y="790"/></g>
<g id="k15-9"><ellipse class="L" cx="500" cy="790" rx="17.5" ry="21.5"/><use href="#RL" x="500" y="790"/></g>
<g id="k15-10"><ellipse class="L" cx="552" cy="790" rx="17.5" ry="21.5"/><use href="#RL" x="552" y="790"/></g>
<g id="k15-11"><ellipse class="L" cx="604" cy="790" rx="17.5" ry="21.5"/><use href="#RL" x="604" y="790"/></g>
<g id="k15-12"><ellipse class="L" cx="656" cy="790" rx="17.5" ry="21.5"/><use href="#RL" x="656" y="790"/></g>
<g id="k15-13"><ellipse class="L" cx="708" cy="790" rx="17.5" ry="21.5"/><use href="#RL" x="708" y="790"/></g>
<g id="k15-14"><ellipse class="L" cx="760" cy="790" rx="17.5" ry="21.5"/><use href="#RL" x="760" y="790"/></g>
<g id="k15-15"><ellipse class="L" cx="812" cy="790" rx="17.5" ry="21.5"/><use href="#RL" x="812" y="790"/></g>
</g>
<text id="watermark" x="448.5" y="456.5" text-anchor="middle" font-family="'Liberation Sans',Arial,sans-serif" font-size="14" font-weight="bold" fill="#3a3a3a" stroke="#ffffff" stroke-opacity="0.6" stroke-width="2" paint-order="stroke">BRACELETBOOK.COM</text>
</svg>
